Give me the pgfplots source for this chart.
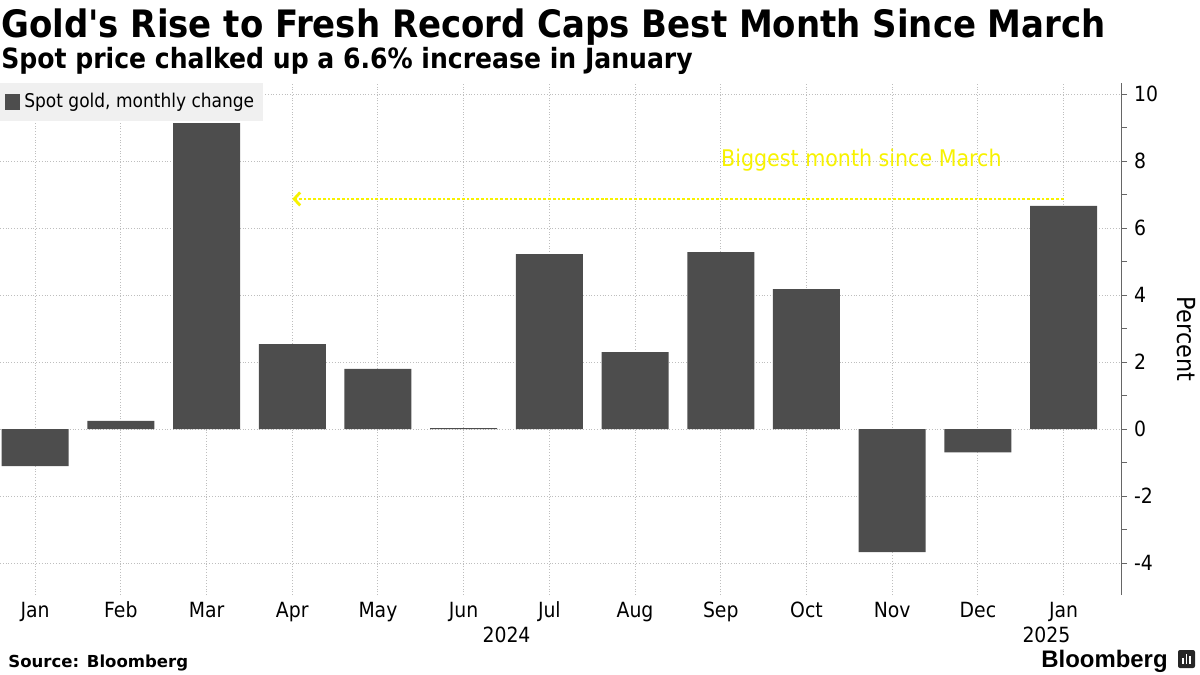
\documentclass[border=0pt]{standalone}
\usepackage{fontspec}
\setmainfont{DejaVu Sans Condensed}
\newfontfamily\titlefont{DejaVu Sans Condensed}[BoldFont=* Bold]
\newfontfamily\srcfont{DejaVu Sans}
\newfontfamily\logofont{Liberation Sans}
\usepackage{pgfplots}
\pgfplotsset{compat=1.18}
\usetikzlibrary{arrows.meta}
\definecolor{barc}{HTML}{4D4D4D}
\definecolor{gridc}{HTML}{BEBEBE}
\definecolor{annc}{HTML}{F7F200}
\definecolor{legbg}{HTML}{F0F0F0}
\pgfplotstableread{
x y
0 -1.10
1 0.25
2 9.13
3 2.54
4 1.80
5 0.03
6 5.22
7 2.30
8 5.28
9 4.18
10 -3.67
11 -0.69
12 6.66
}\gold
\begin{document}
\begin{tikzpicture}
\useasboundingbox (0bp,0bp) rectangle (600bp,-337.5bp);
\node[anchor=base west, inner sep=0pt, font=\titlefont\bfseries\fontsize{18.95}{20}\selectfont] at (0.5bp,-18.5bp) {Gold's Rise to Fresh Record Caps Best Month Since March};
\node[anchor=base west, inner sep=0pt, font=\titlefont\bfseries\fontsize{14}{15}\selectfont] at (0.5bp,-34bp) {Spot price chalked up a 6.6\% increase in January};
\begin{axis}[
  at={(0bp,-41.5bp)}, anchor=north west,
  scale only axis, width=560.5bp, height=256bp,
  xmin=-0.41, xmax=12.67, ymin=-4.95, ymax=10.33,
  axis x line=bottom, axis y line=right,
  x axis line style={draw=none},
  y axis line style={draw=black!60, -},
  xtick={0,...,12},
  xticklabels={Jan,Feb,Mar,Apr,May,Jun,Jul,Aug,Sep,Oct,Nov,Dec,Jan},
  xtick style={draw=none},
  xticklabel style={yshift=3bp},
  ytick={-4,-2,...,10}, minor ytick={-3,-1,...,9},
  ytick style={draw=black!60},
  tick align=outside, major tick length=3bp, minor tick length=3bp,
  xmajorgrids, ymajorgrids,
  grid style={gridc, densely dotted, line width=0.5bp},
  tick label style={font=\fontsize{10.5}{12}\selectfont, text=black},
  /pgf/number format/assume math mode=true,
  ylabel={Percent},
  ylabel style={font=\fontsize{12.5}{14}\selectfont, rotate=180, at={(axis description cs:1.058,0.5)}, anchor=center},
  legend style={at={(0,1)}, anchor=north west, fill=legbg, draw=none,
    font=\fontsize{9.5}{11}\selectfont, inner xsep=2.5bp, inner ysep=3bp},
  legend image code/.code={\fill[barc] (0bp,-3.8bp) rectangle (7.5bp,3.8bp);},
  clip=false,
]
\addplot[ybar, fill=barc, draw=none, bar width=33.5bp] table[x=x,y=y] {\gold};
\addlegendentry{Spot gold, monthly change}
\draw[annc, densely dotted, line width=1.4bp, -{Straight Barb[length=3bp,width=6.5bp]}] (axis cs:12,6.87) -- (axis cs:3.0,6.87);
\node[annc, anchor=base west, inner sep=0pt, font=\fontsize{11.5}{13}\selectfont] at (axis cs:8,7.85) {Biggest month since March};
\node[anchor=base, inner sep=0pt, font=\fontsize{10.5}{12}\selectfont, yshift=-23.5bp] at (axis cs:5.5,-4.95) {2024};
\node[anchor=base, inner sep=0pt, font=\fontsize{10.5}{12}\selectfont, yshift=-23.5bp] at (axis cs:11.8,-4.95) {2025};
\end{axis}
\node[anchor=base west, inner sep=0pt, font=\srcfont\bfseries\fontsize{8.3}{10}\selectfont] at (4bp,-333.5bp) {Source: Bloomberg};
\node[anchor=base east, inner sep=0pt, font=\logofont\bfseries\fontsize{12}{13}\selectfont] at (584bp,-333.5bp) {Bloomberg};
\fill[black!85, rounded corners=1bp] (589bp,-325bp) rectangle (597.5bp,-334bp);
\fill[white] (591bp,-332bp) rectangle (591.8bp,-329bp);
\fill[white] (592.8bp,-332bp) rectangle (593.6bp,-327bp);
\fill[white] (594.6bp,-332bp) rectangle (595.4bp,-328bp);
\end{tikzpicture}
\end{document}
